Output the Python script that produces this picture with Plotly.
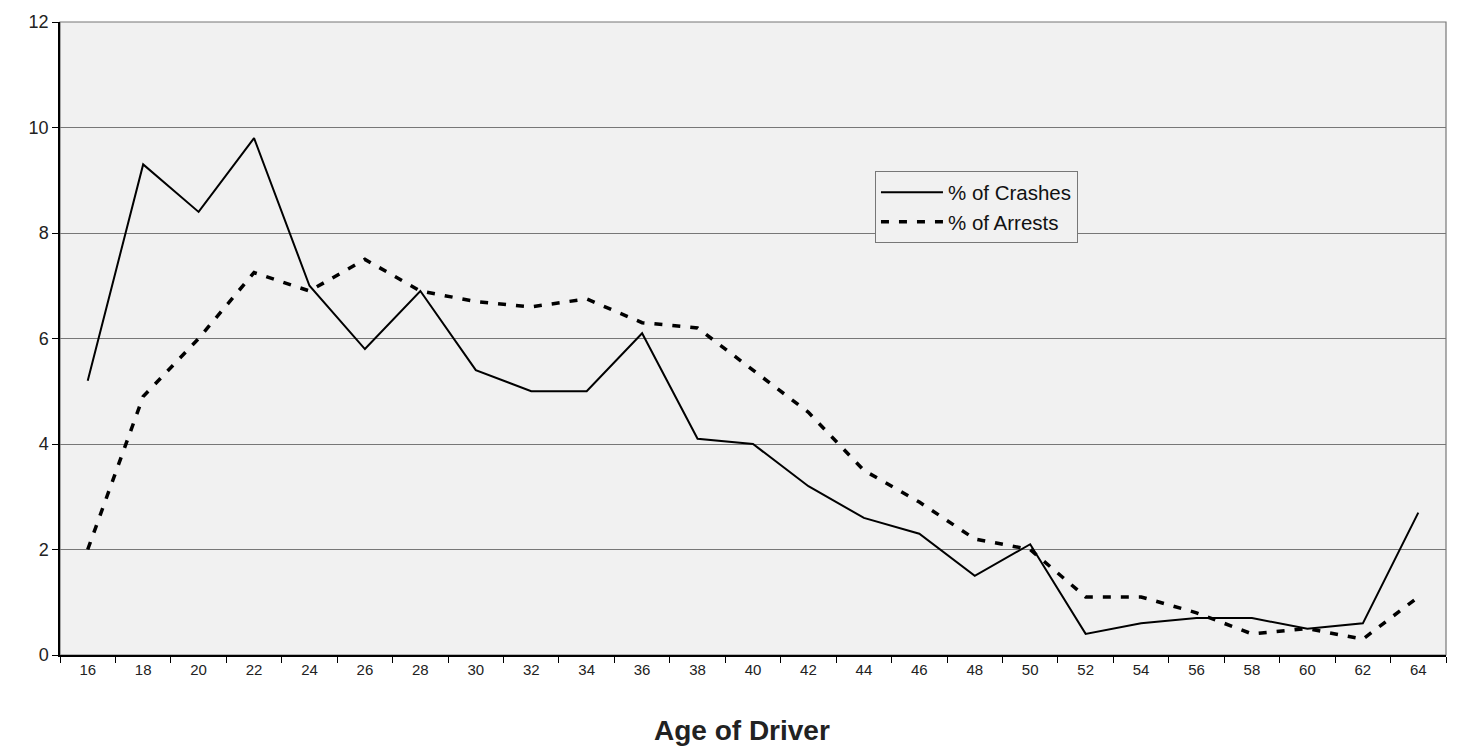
import plotly.graph_objects as go

ages = [str(a) for a in range(16, 66, 2)]
crashes = [5.2, 9.3, 8.4, 9.8, 7.0, 5.8, 6.9, 5.4, 5.0, 5.0, 6.1, 4.1, 4.0,
           3.2, 2.6, 2.3, 1.5, 2.1, 0.4, 0.6, 0.7, 0.7, 0.5, 0.6, 2.7]
arrests = [2.0, 4.9, 6.0, 7.25, 6.9, 7.5, 6.9, 6.7, 6.6, 6.75, 6.3, 6.2, 5.4,
           4.6, 3.5, 2.9, 2.2, 2.0, 1.1, 1.1, 0.8, 0.4, 0.5, 0.3, 1.1]
y_ticks = [0, 2, 4, 6, 8, 10, 12]

font = "Liberation Sans, Arial, sans-serif"

fig = go.Figure()
fig.add_trace(go.Scatter(x=ages, y=crashes, mode="lines", name="% of Crashes",
                         line=dict(color="black", width=2)))
fig.add_trace(go.Scatter(x=ages, y=arrests, mode="lines", name="% of Arrests",
                         line=dict(color="black", width=3.5, dash="8px,10px")))

fig.update_layout(
    width=1460, height=749,
    margin=dict(l=60, r=14, t=17, b=94),
    paper_bgcolor="white", plot_bgcolor="#f1f1f1",
    font=dict(family=font, color="#222"),
    showlegend=True,
    legend=dict(x=0.588, y=0.764, xanchor="left", yanchor="top",
                bgcolor="#f1f1f1", bordercolor="#777", borderwidth=1,
                font=dict(size=20.5, family=font, color="#111"),
                itemwidth=62, tracegroupgap=2),
    xaxis=dict(type="category", tickson="boundaries", ticks="outside", ticklen=6,
               tickcolor="black", showgrid=False, showline=True, linecolor="black",
               linewidth=1.5, tickfont=dict(size=15), range=[-0.5, 24.5]),
    yaxis=dict(range=[0, 12], tickvals=y_ticks, ticks="outside", ticklen=6,
               tickcolor="black", showgrid=True, gridcolor="#777", gridwidth=1.2,
               showline=True, linecolor="black", linewidth=1.5, zeroline=False,
               tickfont=dict(size=18)),
    shapes=[dict(type="rect", xref="paper", yref="paper", x0=0, x1=1, y0=0, y1=1,
                 line=dict(color="#777", width=1.2), layer="below")],
    annotations=[dict(text="<b>Age of Driver</b>", xref="paper", yref="paper",
                      x=0.492, y=-0.119, xanchor="center", yanchor="middle",
                      showarrow=False, font=dict(size=28, family=font, color="#222"))],
)

fig.write_html("out.html", config={"displayModeBar": False},
               post_script="document.body.style.margin='0';document.body.style.padding='0';")
